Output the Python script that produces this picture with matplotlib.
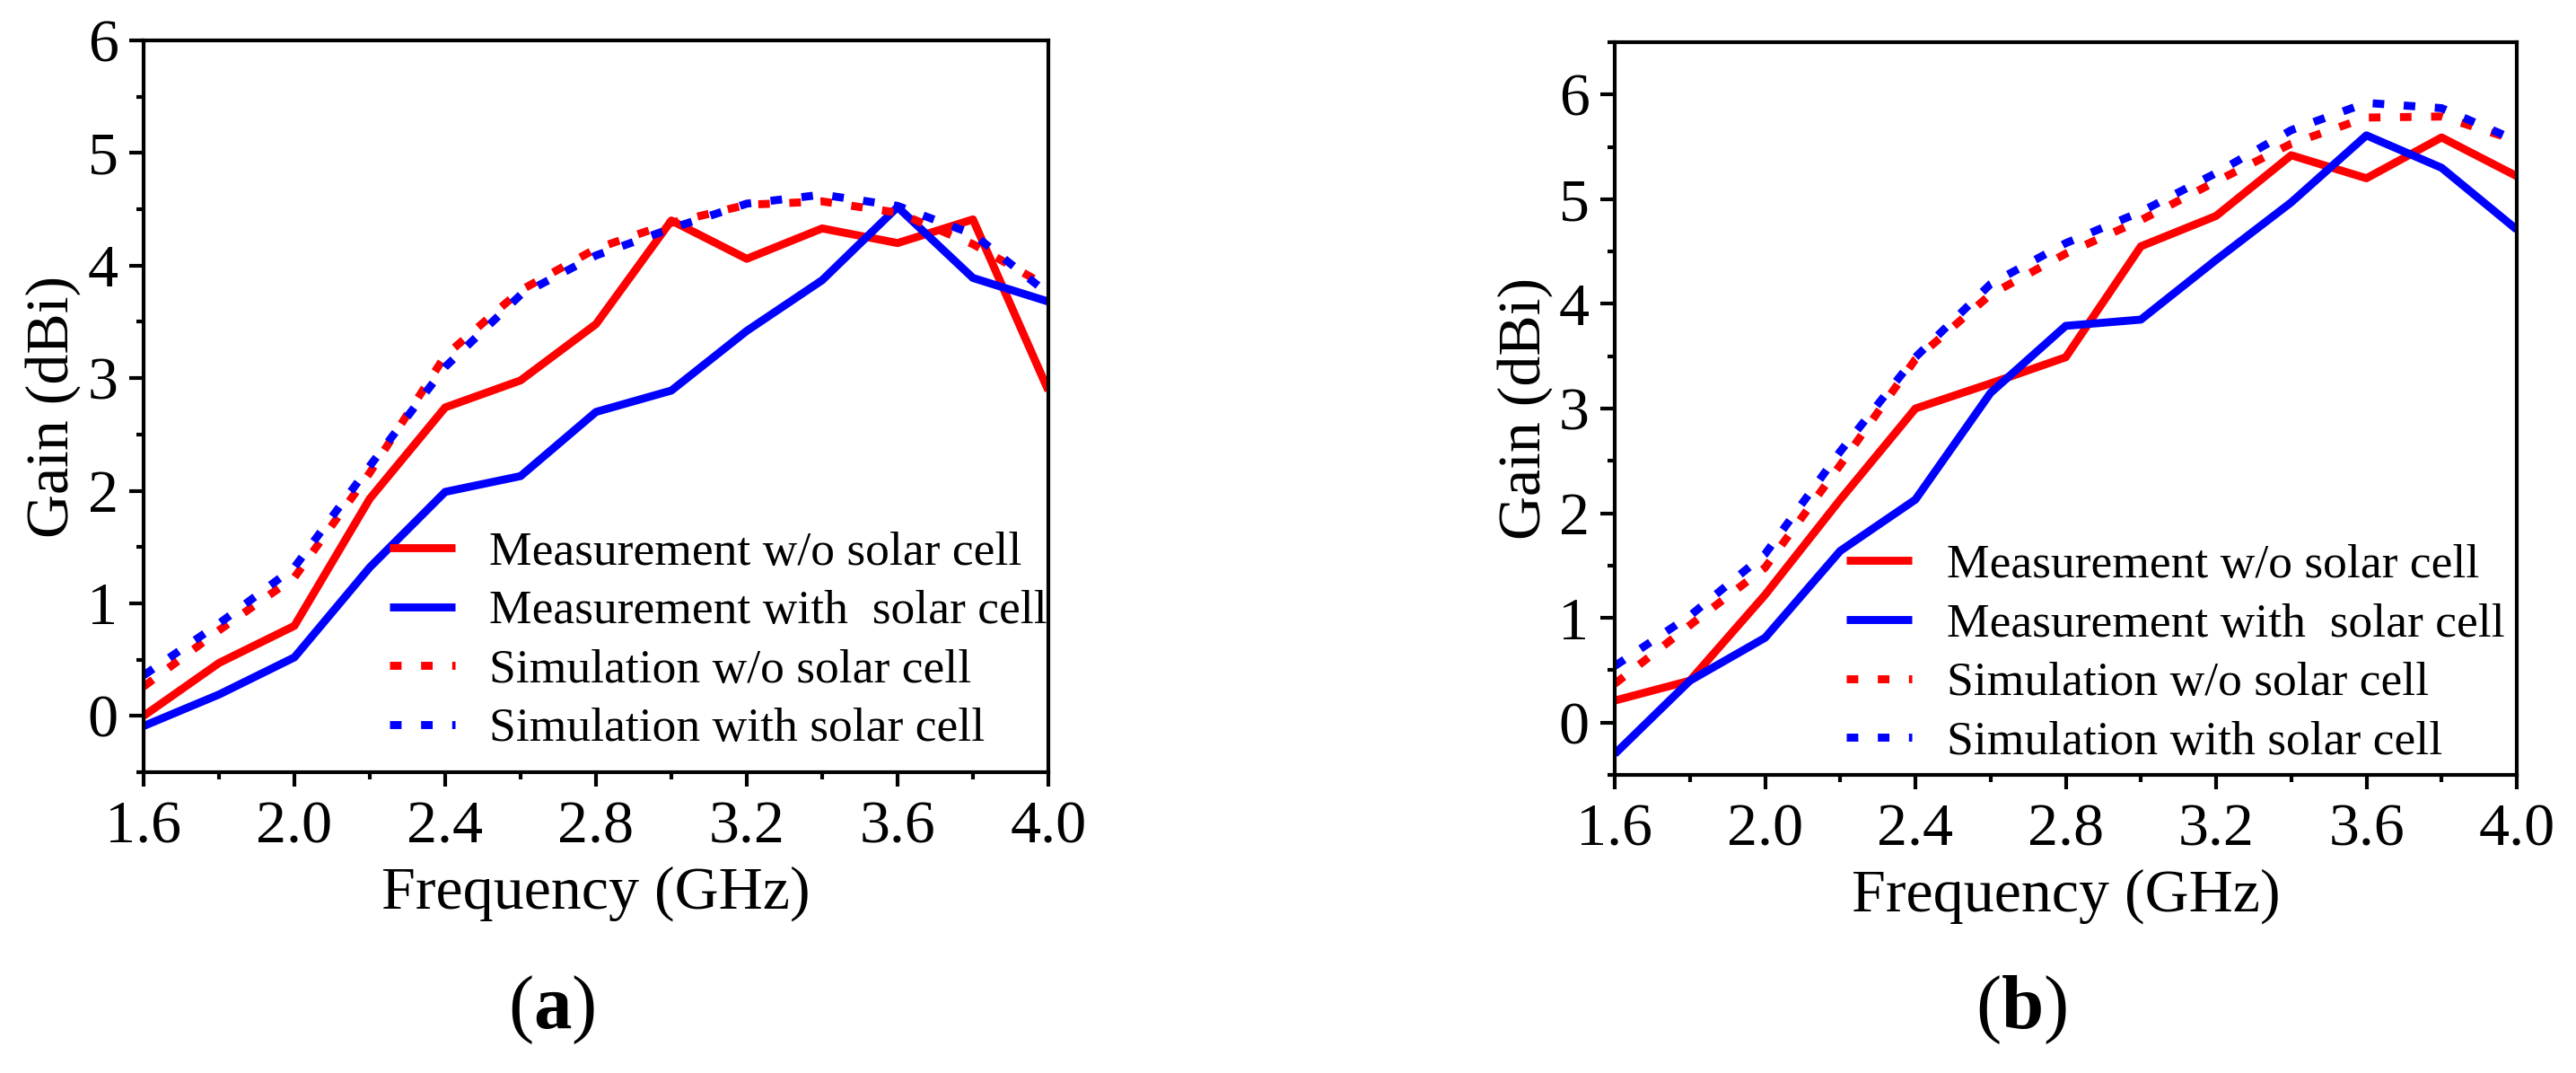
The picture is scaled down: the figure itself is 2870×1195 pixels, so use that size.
import matplotlib
matplotlib.use("Agg")
import matplotlib.pyplot as plt
from matplotlib.ticker import MultipleLocator, FormatStrFormatter

plt.rcParams["font.family"] = ["Liberation Serif", "DejaVu Serif"]
plt.rcParams["mathtext.fontset"] = "custom"
plt.rcParams["mathtext.rm"] = "Liberation Serif"
plt.rcParams["mathtext.bf"] = "Liberation Serif:bold"

freq = [1.6, 1.8, 2.0, 2.2, 2.4, 2.6, 2.8, 3.0, 3.2, 3.4, 3.6, 3.8, 4.0]

# panel (a)
a_meas_wo = [0.00, 0.47, 0.80, 1.93, 2.74, 2.98, 3.48, 4.40, 4.06, 4.33, 4.20, 4.41, 2.89]
a_meas_with = [-0.09, 0.19, 0.52, 1.32, 1.99, 2.13, 2.70, 2.89, 3.42, 3.87, 4.52, 3.89, 3.68]
a_sim_wo = [0.26, 0.76, 1.23, 2.16, 3.20, 3.78, 4.15, 4.38, 4.54, 4.57, 4.47, 4.19, 3.81]
a_sim_with = [0.36, 0.82, 1.32, 2.22, 3.10, 3.74, 4.09, 4.33, 4.55, 4.63, 4.53, 4.28, 3.75]

# panel (b)
b_meas_wo = [0.21, 0.40, 1.22, 2.13, 3.00, 3.24, 3.49, 4.55, 4.84, 5.42, 5.20, 5.59, 5.22]
b_meas_with = [-0.30, 0.40, 0.81, 1.64, 2.13, 3.15, 3.79, 3.85, 4.42, 4.97, 5.61, 5.30, 4.71]
b_sim_wo = [0.37, 0.93, 1.48, 2.46, 3.47, 4.09, 4.48, 4.80, 5.17, 5.53, 5.78, 5.79, 5.56]
b_sim_with = [0.54, 1.02, 1.61, 2.59, 3.49, 4.19, 4.58, 4.88, 5.25, 5.66, 5.92, 5.87, 5.56]

labels = ["Measurement w/o solar cell", "Measurement with  solar cell",
          "Simulation w/o solar cell", "Simulation with solar cell"]

DOT = (0, (1.45, 2.45))
LW = 6.4
TICK_FS = 49
LEG_FS = 38.5


def draw_panel(ax, series, ylim, leg_anchor, tag, tag_x):
    styles = [("#ff0000", "-"), ("#0000ff", "-"), ("#ff0000", DOT), ("#0000ff", DOT)]
    for ys, (c, ls), lab in zip(series, styles, labels):
        ax.plot(freq, ys, color=c, linestyle=ls, linewidth=LW, label=lab,
                solid_capstyle="butt", dash_capstyle="butt")
    ax.set_xlim(1.6, 4.0)
    ax.set_ylim(*ylim)
    ax.xaxis.set_major_locator(MultipleLocator(0.4))
    ax.xaxis.set_minor_locator(MultipleLocator(0.2))
    ax.xaxis.set_major_formatter(FormatStrFormatter("%.1f"))
    ax.yaxis.set_major_locator(MultipleLocator(1))
    ax.yaxis.set_minor_locator(MultipleLocator(0.5))
    ax.tick_params(which="both", direction="out", width=3.0, top=False, right=False)
    ax.tick_params(which="major", length=11.5)
    ax.tick_params(which="minor", length=6)
    ax.tick_params(axis="x", which="major", pad=11, labelsize=TICK_FS)
    ax.tick_params(axis="y", which="major", pad=9, labelsize=TICK_FS)
    for sp in ax.spines.values():
        sp.set_linewidth(3.0)
    ax.set_xlabel("Frequency (GHz)", fontsize=TICK_FS)
    ax.set_ylabel("Gain (dBi)", fontsize=TICK_FS)
    ax.xaxis.set_label_coords(0.5, -0.128)
    ax.yaxis.set_label_coords(-0.069, 0.5)
    ax.legend(loc="lower left", bbox_to_anchor=leg_anchor, frameon=False,
              fontsize=LEG_FS, handlelength=1.36, handletextpad=0.72,
              labelspacing=0.32, borderpad=0, borderaxespad=0)
    fig.text(tag_x, 1 - 1145 / 1195, r"($\mathbf{%s}$)" % tag, fontsize=61,
             ha="center", va="baseline")


fig = plt.figure(figsize=(28.7, 11.95), dpi=100)
ax_a = fig.add_axes([160 / 2870, 1 - 860 / 1195, 1008 / 2870, 815 / 1195])
ax_b = fig.add_axes([1799 / 2870, 1 - 863 / 1195, 1005 / 2870, 816 / 1195])

draw_panel(ax_a, [a_meas_wo, a_meas_with, a_sim_wo, a_sim_with], (-0.5, 6),
           (0.272, 0.029), "a", 615 / 2870)
draw_panel(ax_b, [b_meas_wo, b_meas_with, b_sim_wo, b_sim_with], (-0.5, 6.5),
           (0.257, 0.015), "b", 2252 / 2870)

fig.savefig("out.png", dpi=100)
plt.close(fig)
